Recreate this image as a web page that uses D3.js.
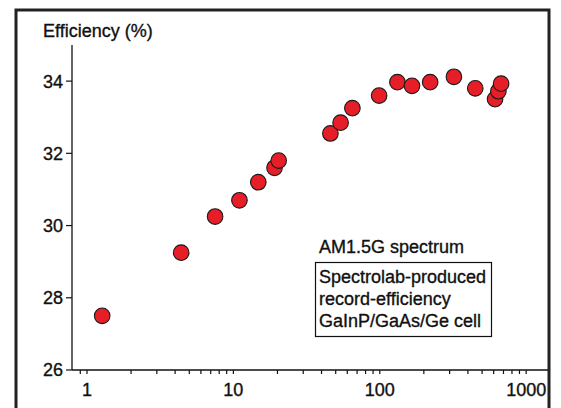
<!DOCTYPE html>
<html>
<head>
<meta charset="utf-8">
<script src="https://cdn.jsdelivr.net/npm/d3@7"></script>
<style>
  body { margin: 0; background: #fff; }
  svg text { font-family: "Liberation Sans", Arial, sans-serif; fill: #111; stroke: #111; stroke-width: 0.35px; }
</style>
</head>
<body>
<div id="chart"></div>
<script>
// data: concentration (suns) vs efficiency (%)
var suns = [1.27, 4.4, 7.5, 11.0, 14.8, 19.1, 20.4, 46, 54, 65, 99, 132, 166, 221, 321, 449, 613, 646, 674];
var efficiency = [27.5, 29.25, 30.25, 30.7, 31.2, 31.6, 31.8, 32.55, 32.85, 33.25, 33.6, 33.97, 33.87, 33.97, 34.12, 33.8, 33.5, 33.72, 33.93];

var yTicks = [26, 28, 30, 32, 34];
var xMajor = [1, 10, 100, 1000];
var noteLines = ["Spectrolab-produced", "record-efficiency", "GaInP/GaAs/Ge cell"];

var W = 561, H = 408;

var svg = d3.select("#chart").append("svg")
  .attr("width", W)
  .attr("height", H);

// outer frame
svg.append("rect")
  .attr("x", 16).attr("y", 10)
  .attr("width", 533).attr("height", 420)
  .attr("fill", "none")
  .attr("stroke", "#222")
  .attr("stroke-width", 3);

var x = d3.scaleLog()
  .domain([0.79, 1410])
  .range([72, 548]);

var y = d3.scaleLinear()
  .domain([26, 35])
  .range([370, 45]);

// minor log ticks
var xMinor = [0.9];
[1, 10, 100].forEach(function(d) {
  for (var k = 2; k <= 9; k++) xMinor.push(d * k);
});

var g = svg.append("g");

// x axis
g.append("line")
  .attr("x1", 72).attr("x2", 548)
  .attr("y1", y(26)).attr("y2", y(26))
  .attr("stroke", "#111").attr("stroke-width", 1.3);

g.selectAll(".xtick")
  .data(xMinor.concat(xMajor))
  .enter().append("line")
  .attr("class", "xtick")
  .attr("x1", function(d) { return x(d); })
  .attr("x2", function(d) { return x(d); })
  .attr("y1", y(26)).attr("y2", y(26) + 4)
  .attr("stroke", "#111").attr("stroke-width", 1.2);

g.selectAll(".xlab")
  .data(xMajor)
  .enter().append("text")
  .attr("class", "xlab")
  .attr("x", function(d) { return x(d); })
  .attr("y", 396)
  .attr("text-anchor", "middle")
  .style("font-size", "18px")
  .text(function(d) { return d; });

// y axis
g.append("line")
  .attr("x1", 72).attr("x2", 72)
  .attr("y1", y(35)).attr("y2", y(26))
  .attr("stroke", "#111").attr("stroke-width", 1.3);

g.selectAll(".ytick")
  .data(yTicks)
  .enter().append("line")
  .attr("class", "ytick")
  .attr("x1", 66).attr("x2", 72)
  .attr("y1", function(d) { return y(d); })
  .attr("y2", function(d) { return y(d); })
  .attr("stroke", "#111").attr("stroke-width", 1.2);

g.selectAll(".ylab")
  .data(yTicks)
  .enter().append("text")
  .attr("class", "ylab")
  .attr("x", 63)
  .attr("y", function(d) { return y(d); })
  .attr("dy", "0.36em")
  .attr("text-anchor", "end")
  .style("font-size", "18px")
  .text(function(d) { return d; });

// axis title
svg.append("text")
  .attr("x", 43).attr("y", 37)
  .style("font-size", "18px")
  .text("Efficiency (%)");

// points
g.selectAll(".pt")
  .data(suns)
  .enter().append("circle")
  .attr("class", "pt")
  .attr("cx", function(d) { return x(d); })
  .attr("cy", function(d, i) { return y(efficiency[i]); })
  .attr("r", 7.8)
  .attr("fill", "#e61e28")
  .attr("stroke", "#1a1a1a")
  .attr("stroke-width", 1.1);

// annotation
svg.append("text")
  .attr("x", 319).attr("y", 253)
  .style("font-size", "18px")
  .text("AM1.5G spectrum");

svg.append("rect")
  .attr("x", 315.5).attr("y", 262.5)
  .attr("width", 176).attr("height", 74)
  .attr("fill", "#fff")
  .attr("stroke", "#111")
  .attr("stroke-width", 1.2);

svg.selectAll(".note")
  .data(noteLines)
  .enter().append("text")
  .attr("class", "note")
  .attr("x", 319)
  .attr("y", function(d, i) { return 283 + i * 22; })
  .style("font-size", "18px")
  .text(function(d) { return d; });
</script>
</body>
</html>
